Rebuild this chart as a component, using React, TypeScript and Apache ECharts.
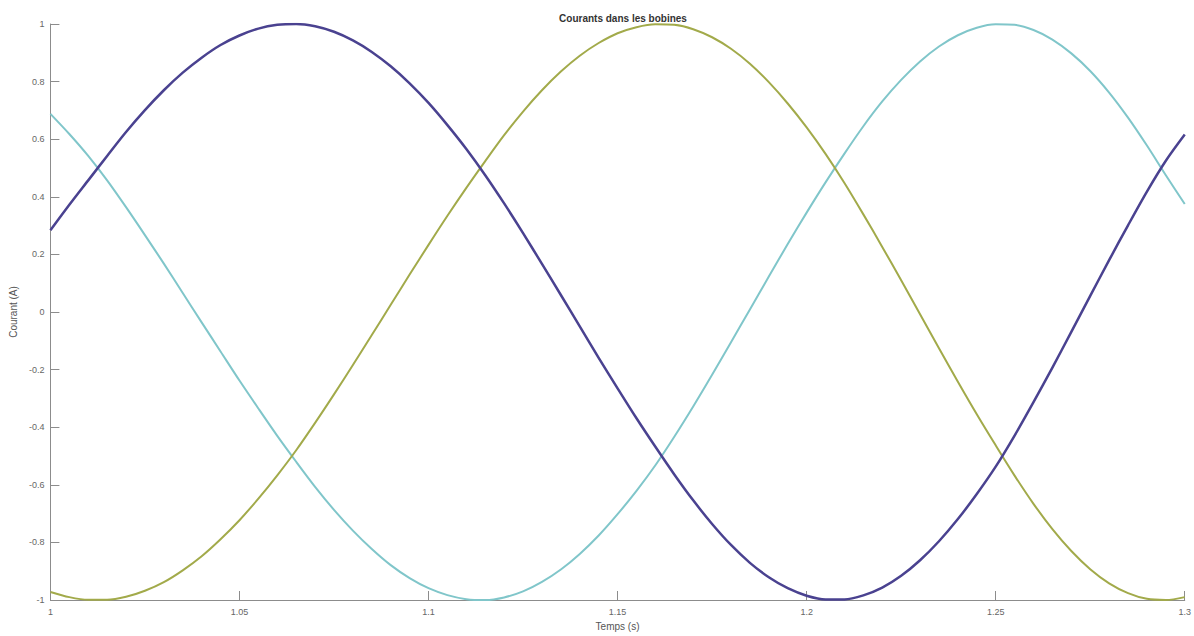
import React, { useEffect, useRef } from "react";
import * as echarts from "echarts";

const times = [
  1.000, 1.005, 1.010, 1.015, 1.020, 1.025, 1.030, 1.035, 1.040, 1.045,
  1.050, 1.055, 1.060, 1.065, 1.070, 1.075, 1.080, 1.085, 1.090, 1.095,
  1.100, 1.105, 1.110, 1.115, 1.120, 1.125, 1.130, 1.135, 1.140, 1.145,
  1.150, 1.155, 1.160, 1.165, 1.170, 1.175, 1.180, 1.185, 1.190, 1.195,
  1.200, 1.205, 1.210, 1.215, 1.220, 1.225, 1.230, 1.235, 1.240, 1.245,
  1.250, 1.255, 1.260, 1.265, 1.270, 1.275, 1.280, 1.285, 1.290, 1.295,
  1.300,
];

const courantA = [
  0.284, 0.372, 0.457, 0.542, 0.625, 0.701, 0.770, 0.831, 0.883, 0.927,
  0.960, 0.984, 0.997, 1.000, 0.992, 0.973, 0.943, 0.903, 0.853, 0.794,
  0.726, 0.649, 0.566, 0.475, 0.377, 0.274, 0.167, 0.059, -0.050, -0.159,
  -0.265, -0.369, -0.468, -0.564, -0.654, -0.736, -0.809, -0.871, -0.921, -0.959,
  -0.985, -0.998, -0.998, -0.984, -0.957, -0.916, -0.862, -0.796, -0.719, -0.632,
  -0.537, -0.429, -0.313, -0.193, -0.069, 0.056, 0.180, 0.301, 0.418, 0.525,
  0.616,
];
const courantB = [
  -0.972, -0.990, -0.999, -0.999, -0.989, -0.968, -0.938, -0.897, -0.848, -0.789,
  -0.723, -0.648, -0.567, -0.480, -0.385, -0.286, -0.184, -0.080, 0.025, 0.130,
  0.233, 0.334, 0.431, 0.524, 0.614, 0.696, 0.770, 0.835, 0.890, 0.934,
  0.968, 0.989, 0.999, 0.997, 0.982, 0.954, 0.914, 0.862, 0.798, 0.724,
  0.641, 0.549, 0.448, 0.339, 0.226, 0.110, -0.008, -0.126, -0.242, -0.355,
  -0.463, -0.568, -0.666, -0.754, -0.830, -0.893, -0.942, -0.976, -0.996, -1.000,
  -0.990,
];
const courantC = [
  0.688, 0.618, 0.542, 0.457, 0.364, 0.267, 0.168, 0.066, -0.036, -0.137,
  -0.238, -0.335, -0.430, -0.520, -0.607, -0.687, -0.759, -0.823, -0.879, -0.924,
  -0.959, -0.983, -0.997, -1.000, -0.991, -0.970, -0.937, -0.894, -0.840, -0.776,
  -0.702, -0.621, -0.532, -0.433, -0.328, -0.218, -0.105, 0.009, 0.123, 0.236,
  0.345, 0.450, 0.550, 0.645, 0.731, 0.806, 0.870, 0.922, 0.961, 0.987,
  0.999, 0.997, 0.979, 0.946, 0.898, 0.837, 0.762, 0.675, 0.578, 0.475,
  0.375,
];

const title = "Courants dans les bobines";
const xName = "Temps (s)";
const yName = "Courant (A)";

const FONT = "'Liberation Sans', Arial, sans-serif";

function pairs(vals: number[]) {
  return times.map((t, i) => [t, vals[i]]);
}

export default function App() {
  const ref = useRef<HTMLDivElement>(null);
  useEffect(() => {
    if (!ref.current) return;
    const chart = echarts.init(ref.current, undefined, { renderer: "svg" });
    const axisCommon = {
      axisLine: { show: true, onZero: false, lineStyle: { color: "#8c8c8c", width: 1 } },
      axisTick: { show: true, inside: true, length: 9, lineStyle: { color: "#8c8c8c" } },
      splitLine: { show: false },
      axisLabel: { color: "#666", fontSize: 9, fontFamily: FONT },
      nameTextStyle: { color: "#555", fontSize: 10, fontFamily: FONT },
    };
    chart.setOption({
      animation: false,
      backgroundColor: "#ffffff",
      title: {
        text: title,
        left: 618,
        textAlign: "center",
        top: 8,
        textStyle: { fontSize: 10, fontWeight: "bold", color: "#333", fontFamily: FONT },
      },
      grid: { left: 46, right: 3, top: 24, bottom: 34.5, containLabel: false },
      xAxis: {
        type: "value",
        min: 1,
        max: 1.3,
        interval: 0.05,
        name: xName,
        nameLocation: "middle",
        nameGap: 21,
        ...axisCommon,
        axisLabel: { ...axisCommon.axisLabel, margin: 7 },
      },
      yAxis: {
        type: "value",
        min: -1,
        max: 1,
        interval: 0.2,
        name: yName,
        nameLocation: "middle",
        nameGap: 26,
        ...axisCommon,
        axisLabel: { ...axisCommon.axisLabel, margin: 6 },
      },
      series: [
        {
          type: "line",
          data: pairs(courantC),
          smooth: 0.3,
          showSymbol: false,
          lineStyle: { color: "#80c6ca", width: 2, join: "round" },
        },
        {
          type: "line",
          data: pairs(courantB),
          smooth: 0.3,
          showSymbol: false,
          lineStyle: { color: "#a2aa4a", width: 2, join: "round" },
        },
        {
          type: "line",
          data: pairs(courantA),
          smooth: 0.3,
          showSymbol: false,
          lineStyle: { color: "#4a4290", width: 2.5, join: "round" },
        },
      ],
    });
    return () => chart.dispose();
  }, []);
  return (
    <div
      ref={ref}
      style={{ position: "absolute", left: 0, top: 0, width: 1194, height: 636, background: "#fff" }}
    />
  );
}
